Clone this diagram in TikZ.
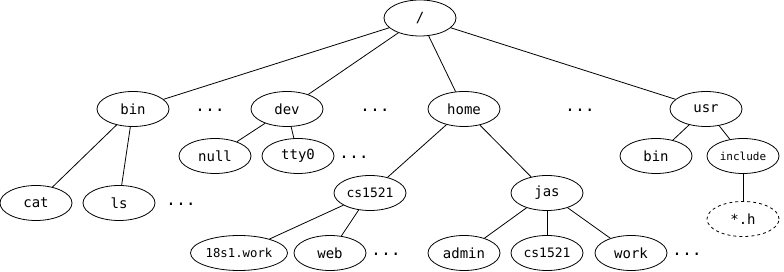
\documentclass[tikz,border=0pt]{standalone}
\usepackage{fontspec}
\setmonofont{DejaVu Sans Mono}
\usetikzlibrary{shapes.geometric}

\tikzset{
    dir/.style={ellipse,draw,line width=.8pt,minimum width=72pt,minimum height=35pt,inner sep=0pt,font=\fontsize{14}{14}\selectfont\ttfamily},
    more/.style={font=\fontsize{16.5}{16.5}\selectfont\ttfamily,inner sep=0pt}
}

\begin{document}
\begin{tikzpicture}[x=1pt,y=-1pt,line width=.8pt]
        \useasboundingbox (0,0) rectangle (784,272);

        % root and first level
        \node[dir,minimum height=36pt] (root) at (420,18) {/};
        \node[dir] (bin)  at (133,109) {bin};
        \node[dir] (dev)  at (287,109) {dev};
        \node[dir] (home) at (464,109) {home};
        \node[dir] (usr)  at (706,109) {usr};
        \node[more] (m1) at (210,110) {...};
        \node[more] (m2) at (375,110) {...};
        \node[more] (m3) at (580,110) {...};

        % second level
        \node[dir] (null) at (215,156) {null};
        \node[dir] (tty)  at (298,156) {tty0};
        \node[more] (m4) at (354,157) {...};
        \node[dir] (ubin) at (656,156) {bin};
        \node[dir,font=\fontsize{11}{11}\selectfont\ttfamily] (incl) at (743,156) {include};
        \node[dir] (cat)  at (36,203) {cat};
        \node[dir] (ls)   at (119,203) {ls};
        \node[more] (m5) at (181,204) {...};
        \node[dir,font=\fontsize{13}{13}\selectfont\ttfamily] (cs) at (370,193) {cs1521};
        \node[dir] (jas)  at (547,193) {jas};
        \node[dir,dashed] (hdr) at (743,219) {*.h};

        % bottom row
        \node[dir,minimum width=97pt,font=\fontsize{12.3}{12.3}\selectfont\ttfamily] (work18) at (239,253) {18s1.work};
        \node[dir] (web)   at (330,253) {web};
        \node[more] (m6) at (386,254) {...};
        \node[dir] (admin) at (464,253) {admin};
        \node[dir,font=\fontsize{13}{13}\selectfont\ttfamily] (jcs) at (547,253) {cs1521};
        \node[dir] (work)  at (631,253) {work};
        \node[more] (m7) at (687,254) {...};

        \foreach \a/\b in {root/bin,root/dev,root/home,root/usr,bin/cat,bin/ls,dev/null,dev/tty,
                home/cs,home/jas,usr/ubin,usr/incl,incl/hdr,cs/work18,cs/web,jas/admin,jas/jcs,jas/work}
        {
            \draw (\a)--(\b);
        }

    \end{tikzpicture}
\end{document}
